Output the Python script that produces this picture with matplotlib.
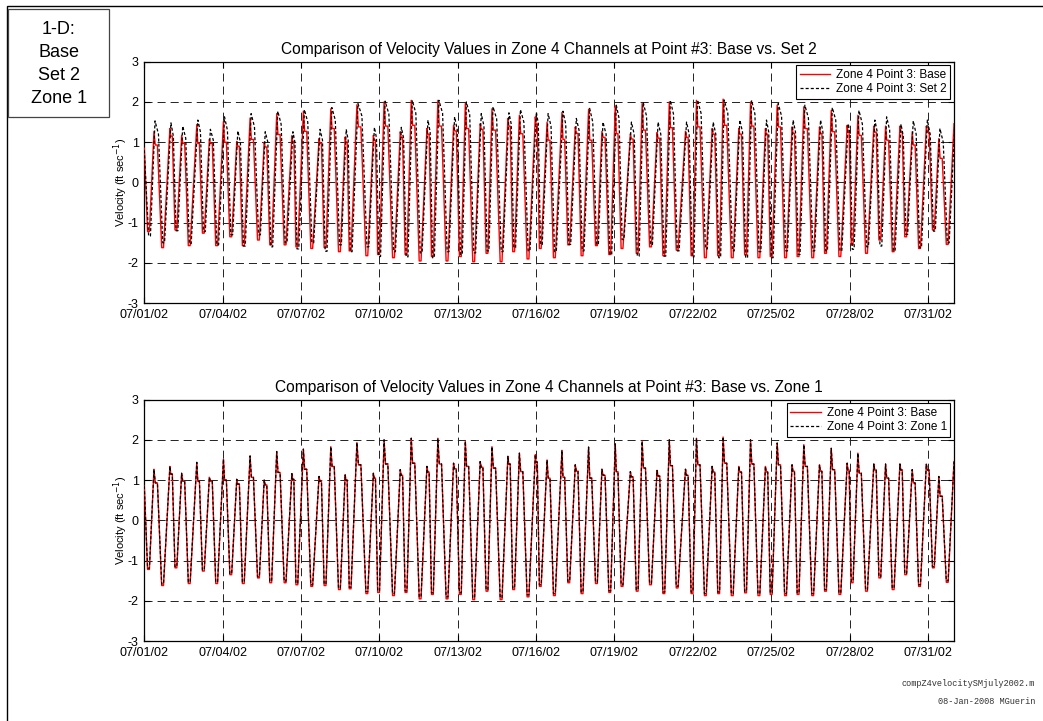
"""Zone 4 channel velocity at point #3: Base vs. Set 2 and Base vs. Zone 1, July 2002."""

import datetime as dt

import matplotlib

matplotlib.use("Agg")
import matplotlib.dates as mdates
import matplotlib.pyplot as plt
from matplotlib.patches import Rectangle

plt.rcParams.update({
    "font.family": ["Liberation Sans", "DejaVu Sans"],
    "lines.scale_dashes": False,
    "axes.linewidth": 0.9,
    "axes.unicode_minus": False,
})

# Times (days after 07/01/02 00:00) of each flood peak and each ebb trough,
# read off the plot. trough_day[k] comes just before peak_day[k].
peak_day = [0.37, 0.98, 1.43, 2.01, 2.49, 3.03, 3.54, 4.05, 4.59, 5.07,
            5.65, 6.09, 6.69, 7.14, 7.69, 8.14, 8.77, 9.18, 9.80, 10.22,
            10.82, 11.24, 11.84, 12.29, 12.86, 13.31, 13.92, 14.36, 14.97, 15.42,
            15.99, 16.50, 17.01, 17.52, 18.03, 18.61, 19.06, 19.63, 20.10, 20.72,
            21.14, 21.74, 22.16, 22.76, 23.21, 23.78, 24.23, 24.80, 25.25, 25.85,
            26.30, 26.91, 27.32, 27.93, 28.38, 28.93, 29.40, 29.94, 30.42, 31.00]
trough_day = [0.16, 0.70, 1.21, 1.72, 2.26, 2.77, 3.31, 3.79, 4.37, 4.84,
              5.39, 5.84, 6.41, 6.92, 7.47, 7.88, 8.52, 8.97, 9.54, 10.02,
              10.56, 11.03, 11.59, 12.10, 12.61, 13.12, 13.66, 14.14, 14.69, 15.16,
              15.70, 16.25, 16.76, 17.31, 17.82, 18.29, 18.87, 19.38, 19.89, 20.40,
              20.97, 21.48, 21.99, 22.51, 23.02, 23.53, 24.00, 24.55, 25.03, 25.59,
              26.08, 26.63, 27.10, 27.65, 28.16, 28.67, 29.15, 29.68, 30.21, 30.74]

# Base run (red)
base_start = 0.85
base_peak = [1.27, 1.34, 1.17, 1.44, 1.07, 1.52, 1.02, 1.60, 1.00, 1.71,
             1.16, 1.77, 1.09, 1.83, 1.13, 1.93, 1.17, 2.00, 1.26, 2.04,
             1.34, 2.04, 1.42, 1.96, 1.46, 1.83, 1.59, 1.67, 1.63, 1.50,
             1.74, 1.38, 1.82, 1.27, 1.90, 1.21, 1.96, 1.24, 2.00, 1.27,
             2.04, 1.34, 2.07, 1.34, 2.00, 1.34, 1.92, 1.38, 1.88, 1.38,
             1.79, 1.42, 1.67, 1.40, 1.40, 1.40, 1.26, 1.40, 1.09, 1.46]
base_knee = [0.93, 1.15, 0.97, 0.97, 0.97, 1.00, 0.90, 1.07, 0.88, 1.19,
             1.02, 1.27, 0.97, 1.34, 1.00, 1.38, 1.05, 1.40, 1.12, 1.42,
             1.20, 1.40, 1.28, 1.34, 1.32, 1.30, 1.40, 1.21, 1.45, 1.05,
             1.07, 1.22, 1.05, 1.12, 1.21, 1.08, 1.30, 1.10, 1.36, 1.12,
             1.38, 1.20, 1.42, 1.20, 1.40, 1.20, 1.38, 1.22, 1.34, 1.22,
             1.26, 1.25, 1.17, 1.25, 1.05, 1.25, 0.93, 1.25, 0.60, 1.30]
base_trough = [-1.22, -1.62, -1.18, -1.57, -1.26, -1.57, -1.35, -1.57, -1.43, -1.55,
               -1.55, -1.60, -1.64, -1.62, -1.72, -1.70, -1.82, -1.79, -1.87, -1.79,
               -1.95, -1.84, -1.95, -1.84, -1.97, -1.76, -1.97, -1.72, -1.90, -1.64,
               -1.87, -1.55, -1.82, -1.57, -1.79, -1.64, -1.76, -1.60, -1.82, -1.68,
               -1.82, -1.87, -1.82, -1.87, -1.80, -1.87, -1.84, -1.87, -1.84, -1.87,
               -1.76, -1.84, -1.55, -1.76, -1.43, -1.72, -1.35, -1.64, -1.18, -1.54]

# Set 2 run (black dashed, top panel); lags the base by about an hour
set2_start = 0.80
set2_lag = 0.04
set2_peak = [1.53, 1.48, 1.40, 1.55, 1.32, 1.63, 1.28, 1.71, 1.26, 1.77,
             1.26, 1.81, 1.32, 1.86, 1.32, 1.96, 1.37, 2.02, 1.37, 2.04,
             1.55, 2.04, 1.63, 2.00, 1.71, 1.88, 1.73, 1.81, 1.75, 1.71,
             1.77, 1.59, 1.84, 1.50, 1.92, 1.50, 1.99, 1.50, 2.04, 1.50,
             2.05, 1.50, 2.05, 1.55, 2.04, 1.55, 1.96, 1.55, 1.92, 1.55,
             1.86, 1.46, 1.79, 1.55, 1.63, 1.45, 1.53, 1.55, 1.34, 1.55]
set2_knee = [1.20, 1.15, 1.10, 1.25, 1.05, 1.30, 1.00, 1.38, 1.00, 1.45,
             1.00, 1.50, 1.05, 1.55, 1.05, 1.65, 1.10, 1.70, 1.10, 1.72,
             1.25, 1.72, 1.30, 1.68, 1.40, 1.58, 1.45, 1.50, 1.45, 1.40,
             1.45, 1.30, 1.50, 1.20, 1.60, 1.20, 1.65, 1.20, 1.70, 1.20,
             1.72, 1.20, 1.72, 1.25, 1.70, 1.25, 1.65, 1.25, 1.60, 1.25,
             1.55, 1.20, 1.45, 1.25, 1.30, 1.15, 1.20, 1.20, 1.00, 1.25]
set2_trough = [-1.33, -1.50, -1.20, -1.52, -1.22, -1.55, -1.30, -1.58, -1.30, -1.60,
               -1.50, -1.65, -1.50, -1.71, -1.55, -1.72, -1.60, -1.84, -1.72, -1.85,
               -1.75, -1.87, -1.72, -1.79, -1.75, -1.70, -1.72, -1.62, -1.70, -1.54,
               -1.72, -1.54, -1.70, -1.54, -1.79, -1.42, -1.83, -1.54, -1.83, -1.70,
               -1.85, -1.65, -1.87, -1.70, -1.87, -1.72, -1.87, -1.70, -1.79, -1.70,
               -1.70, -1.70, -1.66, -1.60, -1.58, -1.70, -1.29, -1.62, -1.21, -1.50]

# Zone 1 run (black dashed, bottom panel): sits on the base except the trough tips
zone1_trough = [-1.19, -1.58, -1.15, -1.53, -1.23, -1.53, -1.32, -1.53, -1.40, -1.51,
                -1.51, -1.56, -1.60, -1.58, -1.68, -1.66, -1.77, -1.75, -1.82, -1.75,
                -1.90, -1.80, -1.90, -1.80, -1.92, -1.72, -1.92, -1.68, -1.85, -1.60,
                -1.82, -1.51, -1.78, -1.53, -1.75, -1.60, -1.72, -1.56, -1.78, -1.64,
                -1.78, -1.82, -1.78, -1.82, -1.76, -1.82, -1.80, -1.82, -1.80, -1.82,
                -1.72, -1.80, -1.51, -1.72, -1.40, -1.68, -1.32, -1.60, -1.15, -1.50]

T0 = dt.datetime(2002, 7, 1)
tick_days = list(range(0, 31, 3))
HOLD = 0.035  # slack water: the trough value is held about an hour either side


def series(start, peaks, troughs, knees, fracs, lag=0.0):
    # walk trough -> peak -> knee(s) -> next trough
    t = [0.0, trough_day[0] - HOLD + lag, trough_day[0] + HOLD + lag]
    v = [start, troughs[0], troughs[0]]
    for i, tp in enumerate(peak_day):
        t.append(tp + lag)
        v.append(peaks[i])
        if i + 1 < len(trough_day):
            span = trough_day[i + 1] - tp
            for f in fracs:
                t.append(tp + f * span + lag)
                v.append(knees[i])
            t += [trough_day[i + 1] - HOLD + lag, trough_day[i + 1] + HOLD + lag]
            v += [troughs[i + 1], troughs[i + 1]]
    return [T0 + dt.timedelta(days=d) for d in t], v


base_t, base_v = series(base_start, base_peak, base_trough, base_knee, (0.15, 0.40))
set2_t, set2_v = series(set2_start, set2_peak, set2_trough, set2_knee, (0.40,), set2_lag)
zone1_t, zone1_v = series(base_start, base_peak, zone1_trough, base_knee, (0.15, 0.40))

W, H = 1043, 721
fig = plt.figure(figsize=(W / 100, H / 100), dpi=100)
fig.patch.set_facecolor("white")

panels = [
    (61.7, "Base vs. Set 2", set2_t, set2_v, "Zone 4 Point 3: Set 2"),
    (399.6, "Base vs. Zone 1", zone1_t, zone1_v, "Zone 4 Point 3: Zone 1"),
]
for top, label, ot, ov, oname in panels:
    ax = fig.add_axes([144.3 / W, 1 - (top + 241.5) / H, 809.7 / W, 241.5 / H])
    ax.plot(base_t, base_v, color="red", lw=1.0, label="Zone 4 Point 3: Base", zorder=3)
    ax.plot(ot, ov, color="black", lw=0.9, linestyle=(0, (2.2, 1.5)), label=oname, zorder=4)
    ax.set_xlim(T0, T0 + dt.timedelta(days=31))
    ax.set_ylim(-3, 3)
    ax.set_yticks(range(-3, 4))
    ax.set_xticks([T0 + dt.timedelta(days=d) for d in tick_days])
    ax.xaxis.set_major_formatter(mdates.DateFormatter("%m/%d/%y"))
    ax.tick_params(direction="in", top=True, right=True, length=4, width=0.8,
                   labelsize=9, pad=4)
    ax.grid(True, color="#222222", lw=0.7, linestyle=(0, (5.8, 3.6)))
    ax.set_ylabel("Velocity (ft sec$^{-1}$)", fontsize=8)
    ax.yaxis.set_label_coords(-0.018, 0.5)
    ax.set_title("Comparison of Velocity Values in Zone 4 Channels at Point #3: " + label,
                 fontsize=11.2, pad=5.5)
    leg = ax.legend(loc="upper right", fontsize=8.5, fancybox=False, framealpha=1,
                    edgecolor="black", borderaxespad=0.3, handlelength=2.6,
                    borderpad=0.3, labelspacing=0.2, handletextpad=0.5)
    leg.get_frame().set_linewidth(0.8)

# page border and the run-label box
fig.add_artist(Rectangle((7 / W, -0.05), 1.1, 1.05 - 6 / H, transform=fig.transFigure,
                         fill=False, ec="black", lw=1.0))
fig.add_artist(Rectangle((8.3 / W, 1 - 117 / H), 101 / W, 108 / H, transform=fig.transFigure,
                         fill=False, ec="#444444", lw=0.9))
fig.text(58.8 / W, 1 - 64 / H, "1-D:\nBase\nSet 2\nZone 1", ha="center", va="center",
         fontsize=13, linespacing=1.45)

fig.text(1035 / W, 1 - 684 / H, "compZ4velocitySMjuly2002.m", ha="right", va="center",
         fontsize=6.2, family="Liberation Mono", color="#333333")
fig.text(1035 / W, 1 - 701.5 / H, "08-Jan-2008 MGuerin", ha="right", va="center",
         fontsize=6.2, family="Liberation Mono", color="#333333")

fig.savefig("out.png", dpi=100)
